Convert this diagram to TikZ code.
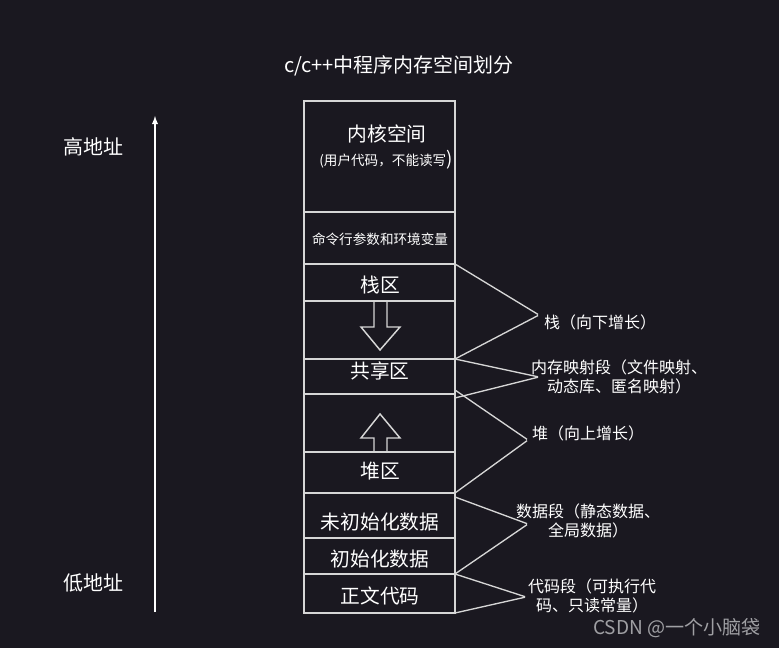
\documentclass[tikz,border=0pt]{standalone}
\usepackage{fontspec}
\setmainfont{Noto Sans CJK SC}
\definecolor{bgdark}{RGB}{26,24,32}
\definecolor{linegray}{RGB}{214,214,214}
\definecolor{markgray}{RGB}{160,160,164}
\pgfdeclarelayer{bglayer}
\pgfdeclarelayer{edgelayer}
\pgfdeclarelayer{nodelayer}
\pgfsetlayers{bglayer,edgelayer,nodelayer,main}
\tikzstyle{none}=[inner sep=0pt]
\tikzstyle{title_text}=[inner sep=0pt,text=white,font=\fontsize{15}{17}\selectfont]
\tikzstyle{addr_text}=[inner sep=0pt,text=white,font=\fontsize{15}{17}\selectfont]
\tikzstyle{region_text}=[inner sep=0pt,text=white,font=\fontsize{14.8}{17}\selectfont]
\tikzstyle{small_text}=[inner sep=0pt,text=white,font=\fontsize{10.2}{12}\selectfont]
\tikzstyle{side_text}=[inner sep=0pt,text=white,align=center,font=\fontsize{12}{14.2}\selectfont]
\tikzstyle{mark_text}=[inner sep=0pt,text=markgray,font=\fontsize{14.3}{16}\selectfont]
\tikzstyle{box}=[draw=linegray,line width=1.5pt]
\tikzstyle{divider}=[draw=linegray,line width=1.1pt]
\tikzstyle{blockarrow}=[draw=linegray,line width=1.1pt,line join=miter]
\tikzstyle{brace}=[draw=linegray,line width=1pt,rounded corners=11pt]
\tikzstyle{transition}=[-latex,draw=white,line width=1.1pt]

\begin{document}
\begin{tikzpicture}[x=0.75pt,y=-0.75pt]
	\begin{pgfonlayer}{bglayer}
		\fill [bgdark] (0,0) rectangle (779,648);
	\end{pgfonlayer}
	\useasboundingbox (0,0) rectangle (779,648);
	\begin{pgfonlayer}{nodelayer}
		\node [style=none] (0) at (304, 101) {};
		\node [style=none] (1) at (455, 101) {};
		\node [style=none] (2) at (304, 212) {};
		\node [style=none] (3) at (455, 212) {};
		\node [style=none] (4) at (304, 264) {};
		\node [style=none] (5) at (455, 264) {};
		\node [style=none] (6) at (304, 301) {};
		\node [style=none] (7) at (455, 301) {};
		\node [style=none] (8) at (304, 359) {};
		\node [style=none] (9) at (455, 359) {};
		\node [style=none] (10) at (304, 394) {};
		\node [style=none] (11) at (455, 394) {};
		\node [style=none] (12) at (304, 452) {};
		\node [style=none] (13) at (455, 452) {};
		\node [style=none] (14) at (304, 493) {};
		\node [style=none] (15) at (455, 493) {};
		\node [style=none] (16) at (304, 538) {};
		\node [style=none] (17) at (455, 538) {};
		\node [style=none] (18) at (304, 574) {};
		\node [style=none] (19) at (455, 574) {};
		\node [style=none] (20) at (304, 613) {};
		\node [style=none] (21) at (455, 613) {};
		\node [style=none] (22) at (155, 613) {};
		\node [style=none] (23) at (155, 115) {};
		\node [style=none] (24) at (539, 315) {};
		\node [style=none] (25) at (539, 377) {};
		\node [style=none] (26) at (528, 440) {};
		\node [style=none] (27) at (528, 524) {};
		\node [style=none] (28) at (526, 597) {};
		\node [style=none] (29) at (455, 398) {};
		\node [style=none] (30) at (455, 390) {};
		\node [style=none] (31) at (455, 497) {};
		\node [style={title_text}] (32) at (399, 66) {c/c++中程序内存空间划分};
		\node [style={addr_text}] (33) at (93, 147) {高地址};
		\node [style={addr_text}] (34) at (93, 583) {低地址};
		\node [style={region_text}] (35) at (387, 134) {内核空间};
		\node [style={small_text}] (36) at (386, 160) {(用户代码，不能读写{\fontsize{14}{14}\selectfont )}};
		\node [style={small_text}] (37) at (380, 239) {命令行参数和环境变量};
		\node [style={region_text}] (38) at (380, 285) {栈区};
		\node [style={region_text}] (39) at (380, 371) {共享区};
		\node [style={region_text}] (40) at (380, 471) {堆区};
		\node [style={region_text}] (41) at (380, 522) {未初始化数据};
		\node [style={region_text}] (42) at (380, 559) {初始化数据};
		\node [style={region_text}] (43) at (380, 596) {正文代码};
		\node [style={side_text}] (44) at (600, 322) {栈（向下增长）};
		\node [style={side_text}] (45) at (619, 377) {内存映射段（文件映射、\\动态库、匿名映射）};
		\node [style={side_text}] (46) at (588, 433) {堆（向上增长）};
		\node [style={side_text}] (47) at (588, 521) {数据段（静态数据、\\全局数据）};
		\node [style={side_text}] (48) at (592, 596) {代码段（可执行代\\码、只读常量）};
		\node [style={mark_text}] (49) at (677, 628) {CSDN @一个小脑袋};
	\end{pgfonlayer}
	\begin{pgfonlayer}{edgelayer}
		\draw [style=box] (0) rectangle (21);
		\draw [style=divider] (2) to (3);
		\draw [style=divider] (4) to (5);
		\draw [style=divider] (6) to (7);
		\draw [style=divider] (8) to (9);
		\draw [style=divider] (10) to (11);
		\draw [style=divider] (12) to (13);
		\draw [style=divider] (14) to (15);
		\draw [style=divider] (16) to (17);
		\draw [style=divider] (18) to (19);
		\draw [style=blockarrow] (374, 301) -- (374, 327) -- (361, 327) -- (380, 350) -- (400, 327) -- (387, 327) -- (387, 301);
		\draw [style=blockarrow] (374, 452) -- (374, 438) -- (361, 438) -- (380, 414) -- (400, 438) -- (387, 438) -- (387, 452);
		\draw [style=transition] (22) to (23);
		\draw [style=brace] (5) -- (24) -- (9);
		\draw [style=brace] (9) -- (25) -- (29);
		\draw [style=brace] (30) -- (26) -- (15);
		\draw [style=brace] (31) -- (27) -- (19);
		\draw [style=brace] (19) -- (28) -- (21);
	\end{pgfonlayer}
\end{tikzpicture}
\end{document}
